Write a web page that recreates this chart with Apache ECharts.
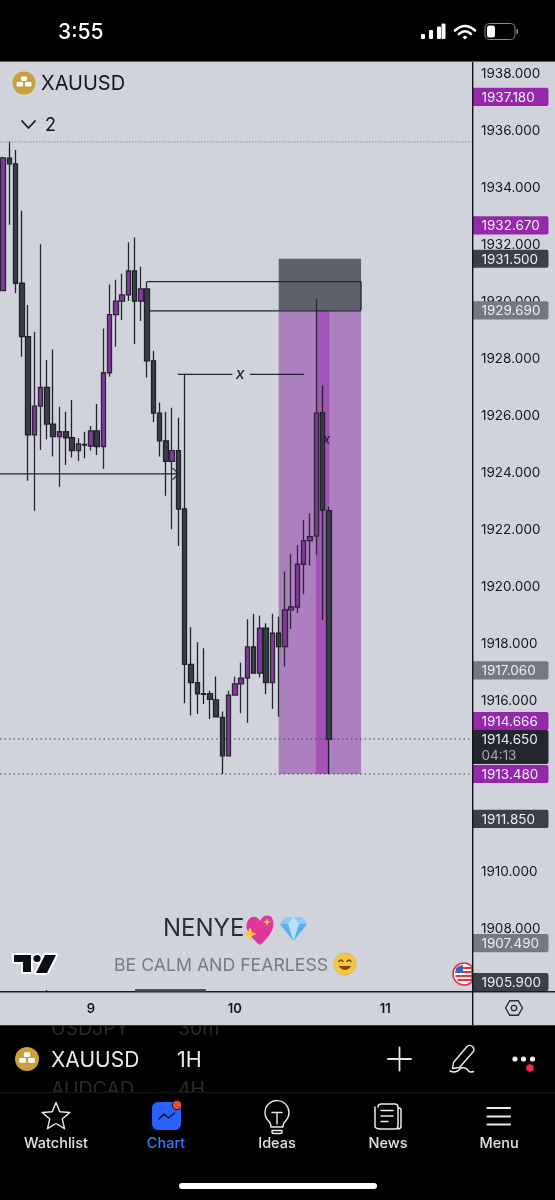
<!DOCTYPE html>
<html><head><meta charset="utf-8">
<style>html,body{margin:0;padding:0;background:#000}#c{width:555px;height:1200px}</style>
<script src="https://cdn.jsdelivr.net/npm/echarts@6/dist/echarts.min.js"></script>
</head><body><div id="c"></div>
<script>
const axisLabels = ['', '', '', '', '', '', '', '', '', '', '', '', '', '', '9', '', '', '', '', '', '', '', '', '', '', '', '', '', '', '', '', '', '', '', '', '', '', '10', '', '', '', '', '', '', '', '', '', '', '', '', '', '', '', '', '', '', '', '', '', '', '', '11', '', '', '', '', '', '', '', '', '', '', '', '', ''];
const opens = [1930.38,1935.03,1934.83,1930.64,1928.77,1925.32,1926.33,1926.99,1925.70,1925.26,1925.43,1925.22,1924.77,1924.99,1924.93,1925.46,1924.91,1927.50,1929.54,1930.01,1930.23,1931.07,1930.01,1930.44,1927.92,1926.08,1925.11,1924.39,1924.77,1922.72,1917.27,1916.63,1916.24,1916.24,1916.02,1915.41,1914.06,1916.19,1916.58,1916.79,1917.88,1916.96,1918.54,1916.63,1918.36,1917.89,1919.18,1919.28,1920.78,1921.61,1921.77,1926.10,1922.66];
const closes = [1935.04,1934.83,1930.64,1928.77,1925.32,1926.33,1926.99,1925.70,1925.26,1925.43,1925.22,1924.77,1925.00,1924.96,1925.46,1924.91,1927.50,1929.54,1930.01,1930.23,1931.07,1930.01,1930.44,1927.92,1926.08,1925.11,1924.39,1924.77,1922.72,1917.27,1916.63,1916.23,1916.22,1916.04,1915.43,1914.06,1916.19,1916.58,1916.78,1917.88,1916.96,1918.54,1916.63,1918.36,1917.89,1919.18,1919.28,1920.78,1921.61,1921.75,1926.08,1922.68,1914.64];
const lows = [1930.38,1932.69,1930.29,1928.06,1923.71,1922.66,1924.79,1925.17,1924.56,1923.50,1924.26,1924.53,1924.40,1924.50,1924.77,1924.61,1924.12,1927.36,1928.41,1929.35,1930.02,1928.51,1929.32,1927.33,1925.77,1924.56,1923.18,1922.01,1921.42,1915.90,1915.47,1915.53,1915.88,1915.35,1915.43,1913.42,1914.06,1916.17,1915.55,1915.22,1916.96,1916.81,1916.23,1915.70,1915.43,1917.19,1918.51,1919.06,1919.73,1920.73,1921.11,1918.83,1913.42];
const highs = [1935.08,1935.61,1935.32,1933.18,1929.88,1928.94,1932.01,1927.95,1928.32,1926.31,1926.13,1926.54,1925.20,1925.43,1925.63,1926.40,1929.05,1930.60,1930.76,1930.97,1932.08,1932.25,1931.22,1930.69,1928.27,1926.46,1926.13,1926.27,1925.92,1927.45,1918.57,1918.04,1917.83,1916.34,1916.84,1915.61,1916.34,1916.84,1917.33,1918.85,1919.04,1918.98,1918.71,1919.04,1918.94,1920.53,1921.13,1921.46,1922.33,1922.57,1930.08,1927.05,1922.80];
const priceTicks = [1938,1936,1934,1932,1930,1928,1926,1924,1922,1920,1918,1916,1910,1908];
const tagValues = [1937.18,1932.67,1931.5,1929.69,1917.06,1914.666,1914.65,1913.48,1911.85,1907.49,1905.9];
const tagKinds = ['p','p','d','g','g','p','l','p','d','g','d'];
const zoneIdx = [44,57.15];
const stopZone = [1929.69,1931.5];
const targetZone = [1913.42,1929.69];
const strongIdx = [49.95,52.1];
const dottedPrices = [1935.6,1914.65,1913.42];
// trend lines: [index1, price1, index2, price2]
const trendLines = [[23,1930.70,57.15,1930.70],[23.3,1929.67,57.15,1929.67],[57.15,1930.70,57.15,1929.69],[27.9,1927.44,36.6,1927.44],[39.4,1927.44,48,1927.44],[-0.5,1923.95,28,1923.95]];
const xNotes = [[37.85,1927.44,16],[51.65,1925.15,13]];

const BG='#d0d3db', INK='#131722', FONT='Inter, "Noto Sans", sans-serif';
const tagColor={p:'#9528aa',d:'#3c3f4b',g:'#757884',l:'#24262f'};
const grid={left:0,top:62,width:469.7,height:930};
const chart=echarts.init(document.getElementById('c'),null,{renderer:'canvas'});

let pathCount=0;
function pathType(d){const n='svgp'+(pathCount++);echarts.graphic.registerShape(n,echarts.graphic.extendPath(d,{}));return n;}
function T(text,x,y,size,fill,o){o=o||{};return {type:'text',z:o.z||20,x:x,y:y+1.2,style:{text:text,fill:fill,font:(o.w||'400')+' '+size+'px '+(o.f||FONT),textAlign:o.a||'left',align:o.a||'left',textVerticalAlign:'middle',verticalAlign:'middle'}};}
function R(x,y,w,h,fill,r,z){return {type:'rect',z:z||15,shape:{x:x,y:y,width:w,height:h,r:r||0},style:{fill:fill}};}
function P(d,stroke,lw,fill,z){return {type:pathType(d),z:z||20,style:{fill:fill||'none',stroke:stroke||'none',lineWidth:lw||0,lineCap:'round',lineJoin:'round'}};}
function C(cx,cy,r,fill,stroke,lw,z){return {type:'circle',z:z||20,shape:{cx:cx,cy:cy,r:r},style:{fill:fill||'none',stroke:stroke||'none',lineWidth:lw||0}};}
function star(cx,cy,R1,R2){let d='';for(let i=0;i<10;i++){const a=-Math.PI/2+i*Math.PI/5,r=i%2?R2:R1;d+=(i?'L':'M')+(cx+r*Math.cos(a)).toFixed(1)+' '+(cy+r*Math.sin(a)).toFixed(1);}return d+'Z';}
function gold(cx,cy,r){const k=r/11.5;return [C(cx,cy,r,'#c9a13c'),
 R(cx-3*k,cy-6.5*k,6*k,4.5*k,'#fff',1,21),R(cx-7.5*k,cy-1*k,6.5*k,4.5*k,'#fff',1,21),R(cx+1*k,cy-1*k,6.5*k,4.5*k,'#fff',1,21)];}

const chrome=[
 // status bar
 R(0,0,555,62,'#000'),
 R(0,61,555,1,'#60636c'),
 T('3:55',58,31,21,'#fff',{w:'500'}),
 R(421,34,4,5,'#fff',1),R(429,30,4,9,'#fff',1),R(437,26.5,4,12.5,'#fff',1),R(441.5,23.5,4,15.5,'#fff',1),
 P('M455 30.5Q465 21.5 475 30.5','#fff',2.6),P('M459 34Q465 28.5 471 34','#fff',2.6),P('M462.5 37.2L465 39.5L467.5 37.2L465 35.5Z','#fff',0,'#fff'),
 {type:'rect',z:20,shape:{x:485,y:23.5,width:30,height:16,r:4.5},style:{fill:'none',stroke:'#8c8c8c',lineWidth:1}},
 R(487,25.5,8,12,'#fff',2.5,21),R(516.5,29,1.5,5,'#8c8c8c',1),
 // symbol header
 ...gold(24,83,11.5),
 T('XAUUSD',41,83,20,INK),
 P('M22 121L28.5 128L35 121',INK,1.8),
 T('2',45,124,18,INK),
 // watermark
 T('NENYE',163,928,24,'#2b2f3b'),
 P('M260 945C246 934 244 925 249 919C253 915 258 917 260 921C263 915 269 914 272 918C276 925 272 935 260 945Z','#e0359a',0,'#e0359a'),
 P('M250 927L252 932L257 934L252 936L250 941L248 936L243 934L248 932Z','#ffc93a',0,'#ffc93a',21),
 P('M267 918L268 921L271 922L268 923L267 926L266 923L263 922L266 921Z','#ffd75e',0,'#ffd75e',21),
 P('M285 917L302 917L307 924L293.5 941L280 924Z','#8ccaf3',0,'#8ccaf3'),
 P('M280 924L307 924L293.5 941Z','#5db0ea',0,'#5db0ea',21),
 P('M288 924L293.5 917L299 924L293.5 941Z','#b9e2fb',0,'#b9e2fb',22),
 T('BE CALM AND FEARLESS',114,964,17.7,'#777a85'),
 C(345,964,11,'#f6c544','#e8a72f',0.6),
 P('M339 961.5Q341 958.5 343 961.5M347 961.5Q349 958.5 351 961.5','#6a4310',1.4,null,21),
 P('M338.5 966Q345 974 351.5 966Z','#6a4310',0,'#7a4a14',21),
 // TV logo
 P('M14 955H31V972H23V962H14Z','#fff',4,'#fff'),P('M14 955H31V972H23V962H14Z',null,0,'#0c0e15',21),
 C(37,958.5,5.2,'#fff',null,0,20),C(37,958.5,3.6,'#0c0e15',null,0,21),
 P('M45 955H56L47 973H36Z','#fff',4,'#fff'),P('M45 955H56L47 973H36Z',null,0,'#0c0e15',21),
 // flag
 P('M472 966.5A11 11 0 1 0 472 981.5Z','#e2353c',1.6,'#fff',6),
 P('M456 968.5Q458 965.6 463 965V973H455Z',null,0,'#3f63b5',7),
 R(463,967,9,2,'#e2353c',0,7),R(463,971,9,2,'#e2353c',0,7),R(455.5,975,16.5,2.2,'#e2353c',0,7),R(457.5,979,14.5,2,'#e2353c',0,7),
 // bottom black toolbars
 R(0,1025,555,175,'#000',0,12),
 T('USDJPY',51,1028,19.5,'#29292c',{z:13}),T('30m',178,1028,19.5,'#29292c',{z:13}),
 T('AUDCAD',51,1089,19.5,'#2a2a2d',{z:13}),T('4H',178,1089,19.5,'#2a2a2d',{z:13}),
 R(0,992,555,33,BG,0,14),
 // time axis furniture
 R(0,991,555,1.6,'#1a1d27',0,16),R(135,989,71,2.5,'#4a4d58',0,16),R(46,990,1.2,1.2,'#1a1d27',0,16),
 R(472,62,1.4,963,'#101218',0,16),
 P('M505.5 1008L509.8 1000.7H518.2L522.5 1008L518.2 1015.3H509.8Z','#2a2e39',1.4),C(514,1008,2.7,'none','#2a2e39',1.3),
 R(0,1092,555,108,'#000',0,21),R(0,1092,555,1,'#15171a',0,21),
 R(0,1025,555,1,'#36383e',0,21),
 ...gold(27,1059,12),
 T('XAUUSD',51,1059,21,'#ececec'),T('1H',177,1059,21.5,'#ececec'),
 P('M388 1059H411M399.5 1047.5V1070.5','#e6e6e6',1.8),
 P('M453.5 1062.5L467 1046.5Q470 1044 473 1047Q475 1050 472.5 1052.5L459.5 1067.5L452.5 1068.5ZM450 1071Q456 1074 461 1068Q466 1067 468 1070.5Q470 1073 473.5 1071.5','#ececec',1.4),
 C(515,1059,2.6,'#ececec'),C(523.5,1059,2.6,'#ececec'),C(532.5,1059,2.6,'#ececec'),C(530,1068,3.8,'#ef2d41',null,0,21),
 // nav bar
 P(star(56,1117,14.5,6.5),'#eaeaea',1.4,null,22),
 T('Watchlist',56,1142.5,14.5,'#e3e3e3',{a:'center',w:'500',z:22}),
 {type:'rect',z:22,shape:{x:152,y:1102,width:29,height:28,r:6},style:{fill:'#2962ff'}},
 P('M159 1119L164 1114L168.5 1118L174.5 1113','#0d1a3a',1.6,null,23),
 {type:'circle',z:23,shape:{cx:177,cy:1105,r:4.7},style:{fill:'#ed4d2f',stroke:'#000',lineWidth:0.8}},
 T('Chart',166,1142.5,14.5,'#2f7df6',{a:'center',w:'500',z:22}),
 P('M271 1127Q271 1123 268 1120.5A12 12 0 1 1 286 1120.5Q283 1123 283 1127ZM272 1130.5H282V1132Q282 1133.5 280 1133.5H274Q272 1133.5 272 1132ZM272 1112.5H282M277 1112.5V1124','#eaeaea',1.4,null,22),
 T('Ideas',277,1142.5,14.5,'#e3e3e3',{a:'center',w:'500',z:22}),
 P('M378 1107Q378 1104 381 1104H395Q398 1104 398 1107V1126Q398 1129 395 1129H381Q375 1129 375 1126V1107M398 1108H399Q401 1108 401 1110V1126Q401 1129 398 1129M381 1110.5H393M381 1116H393M381 1121.5H388','#eaeaea',1.5,null,22),
 T('News',388,1142.5,14.5,'#e3e3e3',{a:'center',w:'500',z:22}),
 P('M487.5 1108H510M487.5 1116.5H510M487.5 1124.5H510','#eaeaea',2.2,null,22),
 T('Menu',499,1142.5,14.5,'#e3e3e3',{a:'center',w:'500',z:22}),
 {type:'rect',z:22,shape:{x:179,y:1183,width:198,height:6,r:3},style:{fill:'#fff'}}
];

function rectAt(api,x1,p1,x2,p2){const a=api.coord([x1,p1]),b=api.coord([x2,p2]);return {x:a[0],y:Math.min(a[1],b[1]),width:b[0]-a[0],height:Math.abs(a[1]-b[1])};}

chart.setOption({
 animation:false,backgroundColor:BG,
 graphic:{elements:chrome},
 grid:grid,
 xAxis:[
  {type:'category',z:16,data:axisLabels,axisLine:{show:false},axisTick:{show:false},splitLine:{show:false},
   axisLabel:{interval:0,color:INK,fontFamily:FONT,fontSize:13,fontWeight:600,margin:11,hideOverlap:false}},
  {type:'value',min:-0.5,max:74.5,show:false,splitLine:{show:false}}
 ],
 yAxis:{type:'value',position:'right',offset:2.3,min:1905.772,max:1938.4035,scale:true,
  axisLine:{show:false},axisTick:{show:false},splitLine:{show:false},
  axisLabel:{customValues:priceTicks,color:INK,fontFamily:FONT,fontSize:13.5,margin:9,padding:[1.5,0,0,0],formatter:v=>v.toFixed(3),showMinLabel:true,showMaxLabel:true}},
 series:[
  {type:'custom',xAxisIndex:1,z:1,silent:true,data:[[zoneIdx[0],stopZone[0],zoneIdx[1],stopZone[1],0],[zoneIdx[0],targetZone[0],zoneIdx[1],targetZone[1],1],[strongIdx[0],targetZone[0],strongIdx[1],targetZone[1],2]],
   encode:{x:[0,2],y:[1,3]},
   renderItem:(p,api)=>{const k=api.value(4);return {type:'rect',shape:rectAt(api,api.value(0),api.value(1),api.value(2),api.value(3)),style:{fill:['#5f616c','#ad7fc0','#a355b7'][k]}};}},
  {type:'candlestick',z:2,barWidth:5,xAxisIndex:0,
   data:opens.map((o,i)=>[o,closes[i],lows[i],highs[i]]),
   itemStyle:{color:'#83389c',color0:'#3a3d49',borderColor:'#2b2735',borderColor0:'#20222b',borderWidth:1.3}},
  {type:'custom',xAxisIndex:1,z:3,silent:true,data:trendLines,encode:{x:[0,2],y:[1,3]},
   renderItem:(p,api)=>{const a=api.coord([api.value(0),api.value(1)]),b=api.coord([api.value(2),api.value(3)]);return {type:'line',shape:{x1:a[0],y1:a[1],x2:b[0],y2:b[1]},style:{stroke:'#22252e',lineWidth:1.3}};}},
  {type:'custom',xAxisIndex:1,z:3,silent:true,data:[[28,1923.95]],encode:{x:0,y:1},
   renderItem:(p,api)=>{const a=api.coord([api.value(0),api.value(1)]);return {type:'polyline',shape:{points:[[a[0]-6,a[1]-6],[a[0],a[1]],[a[0]-6,a[1]+6]]},style:{fill:'none',stroke:'#22252e',lineWidth:1.2}};}},
  {type:'custom',xAxisIndex:1,z:3,silent:true,data:xNotes,encode:{x:0,y:1},
   renderItem:(p,api)=>{const a=api.coord([api.value(0),api.value(1)]);return {type:'text',style:{x:a[0],y:a[1],text:'x',fill:'#22252e',font:'italic 500 '+api.value(2)+'px '+FONT,textAlign:'center',align:'center',textVerticalAlign:'middle',verticalAlign:'middle'}};}},
  {type:'custom',xAxisIndex:1,z:3,silent:true,data:dottedPrices.map(v=>[-0.5,v]),encode:{x:0,y:1},
   renderItem:(p,api)=>{const a=api.coord([api.value(0),api.value(1)]);const first=p.dataIndex===0;return {type:'line',shape:{x1:0,y1:a[1],x2:472,y2:a[1]},style:{stroke:first?'#8a8d98':'#3a3d48',lineWidth:1,lineDash:first?[1.5,1.5]:[1.5,3]}};}},
  {type:'custom',xAxisIndex:1,z:6,silent:true,data:tagValues.map((v,i)=>[0,v,i]),encode:{x:0,y:1},
   renderItem:(p,api)=>{const i=api.value(2),v=api.value(1),kind=tagKinds[i],y0=api.coord([0,v])[1];
    const cy=(kind==='l')?747:(v===1914.666?721:(v===1913.48?774:(v===1905.9?982:y0)));
    const h=kind==='l'?34:18.2,top=kind==='l'?730:cy-9.1;
    const tx={type:'text',style:{x:481.5,y:kind==='l'?740:cy+0.8,text:v.toFixed(3),fill:'#eceef2',font:'400 13.5px '+FONT,textAlign:'left',align:'left',textVerticalAlign:'middle',verticalAlign:'middle'}};
    const kids=[{type:'rect',shape:{x:472.5,y:top,width:76,height:h,r:[0,2,2,0]},style:{fill:tagColor[kind]}},tx];
    if(kind==='l')kids.push({type:'text',style:{x:481.5,y:755.5,text:'04:13',fill:'#a3a6af',font:'400 13.5px '+FONT,textAlign:'left',align:'left',textVerticalAlign:'middle',verticalAlign:'middle'}});
    return {type:'group',children:kids};}}
 ]
});
</script></body></html>
